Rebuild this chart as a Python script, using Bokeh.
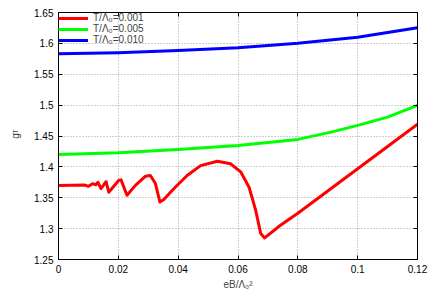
import math
from bokeh.plotting import figure
from bokeh.models import (Range1d, LinearAxis, FixedTicker, NumeralTickFormatter,
                          Legend, LegendItem, Label, CustomLabelingPolicy,
                          CustomJSTickFormatter)
from bokeh.embed import file_html
from bokeh.resources import INLINE

# ---- data ----
x_red = [0.0, 0.0089, 0.0100, 0.0114, 0.0125, 0.0132, 0.0142, 0.0159, 0.0168, 0.0201,
         0.0209, 0.0229, 0.0257, 0.0291, 0.0307, 0.0324, 0.0339, 0.0352, 0.0386, 0.0430,
         0.0475, 0.0531, 0.0575, 0.0609, 0.0637, 0.0659, 0.0676, 0.0689, 0.0742, 0.0800,
         0.0900, 0.1000, 0.1100, 0.1200]
y_red = [1.370, 1.3705, 1.3685, 1.3728, 1.371, 1.375, 1.3647, 1.376, 1.359, 1.378,
         1.379, 1.354, 1.370, 1.385, 1.386, 1.373, 1.343, 1.347, 1.365, 1.386,
         1.402, 1.409, 1.405, 1.392, 1.367, 1.330, 1.292, 1.285, 1.3054, 1.325,
         1.361, 1.397, 1.433, 1.469]

x_green = [0.0, 0.02, 0.04, 0.06, 0.08, 0.0911, 0.10, 0.11, 0.12]
y_green = [1.4202, 1.423, 1.428, 1.4348, 1.4445, 1.4563, 1.4672, 1.4806, 1.4995]

x_blue = [0.0, 0.02, 0.04, 0.06, 0.08, 0.10, 0.12]
y_blue = [1.5832, 1.5848, 1.5885, 1.5929, 1.6003, 1.610, 1.6252]

series_labels = ["T/Λ₀=0.001", "T/Λ₀=0.005", "T/Λ₀=0.010"]
series_colors = ["#ff0000", "#00ff00", "#0000ff"]

x_ticks = [0.0, 0.02, 0.04, 0.06, 0.08, 0.1, 0.12]
y_ticks = [1.25, 1.3, 1.35, 1.4, 1.45, 1.5, 1.55, 1.6, 1.65]

FONT = "Liberation Sans"
FS = "10px"

p = figure(width=428, height=296, output_backend="svg", toolbar_location=None,
           x_range=Range1d(0, 0.12), y_range=Range1d(1.25, 1.65),
           min_border_left=58, min_border_right=11, min_border_top=12, min_border_bottom=37)
p.background_fill_color = "white"
p.border_fill_color = "white"
p.outline_line_color = "black"
p.outline_line_width = 1

no_labels = CustomLabelingPolicy(code="return new Set()")
empty_fmt = CustomJSTickFormatter(code="return ''")

def style_axis(ax, ticks, show_labels):
    ax.ticker = FixedTicker(ticks=ticks)
    ax.axis_line_color = "black"
    ax.major_tick_line_color = "black"
    ax.major_tick_in = 4
    ax.major_tick_out = 0
    ax.minor_tick_line_color = None
    ax.major_label_text_font = FONT
    ax.major_label_text_font_size = FS
    ax.major_label_text_color = "black"
    if show_labels:
        ax.formatter = NumeralTickFormatter(format="0.[00]")
        ax.major_label_standoff = 5
    else:
        ax.formatter = empty_fmt
        ax.major_label_standoff = 0
        ax.major_label_policy = no_labels

style_axis(p.xaxis[0], x_ticks, True)
style_axis(p.yaxis[0], y_ticks, True)
p.xaxis[0].axis_label = "eB/Λ₀²"
p.xaxis[0].axis_label_text_font = FONT
p.xaxis[0].axis_label_text_font_size = FS
p.xaxis[0].axis_label_text_font_style = "normal"
p.xaxis[0].axis_label_standoff = 3

p.yaxis[0].axis_label = "g"
p.yaxis[0].axis_label_text_font = FONT
p.yaxis[0].axis_label_text_font_size = FS
p.yaxis[0].axis_label_text_font_style = "normal"
p.yaxis[0].axis_label_standoff = 10

ax_r = LinearAxis()
style_axis(ax_r, y_ticks, False)
p.add_layout(ax_r, "right")
ax_t = LinearAxis()
style_axis(ax_t, x_ticks, False)
p.add_layout(ax_t, "above")

for g in (p.xgrid[0], p.ygrid[0]):
    g.grid_line_color = "#a0a0a0"
    g.grid_line_dash = "1 2"
    g.grid_line_width = 1
p.xgrid[0].ticker = FixedTicker(ticks=x_ticks[1:-1])
p.ygrid[0].ticker = FixedTicker(ticks=y_ticks[1:-1])

r_red = p.line(x_red, y_red, line_color=series_colors[0], line_width=3, line_join="round")
r_green = p.line(x_green, y_green, line_color=series_colors[1], line_width=3, line_join="round")
r_blue = p.line(x_blue, y_blue, line_color=series_colors[2], line_width=3, line_join="round")

legend = Legend(items=[LegendItem(label=series_labels[0], renderers=[r_red]),
                       LegendItem(label=series_labels[1], renderers=[r_green]),
                       LegendItem(label=series_labels[2], renderers=[r_blue])],
                location="top_left", margin=0, padding=3, spacing=0,
                glyph_width=30, glyph_height=10, label_height=10, label_standoff=5,
                label_text_font=FONT, label_text_font_size=FS,
                border_line_color=None, background_fill_alpha=0)
p.add_layout(legend)

# subscript "T" of the y-axis label
p.add_layout(Label(x=15, y=131, x_units="canvas", y_units="canvas", text="T",
                   angle=math.pi / 2, text_font=FONT, text_font_size="7px",
                   text_align="center", text_baseline="middle"), "left")

open("out.html", "w").write(file_html(p, INLINE))
